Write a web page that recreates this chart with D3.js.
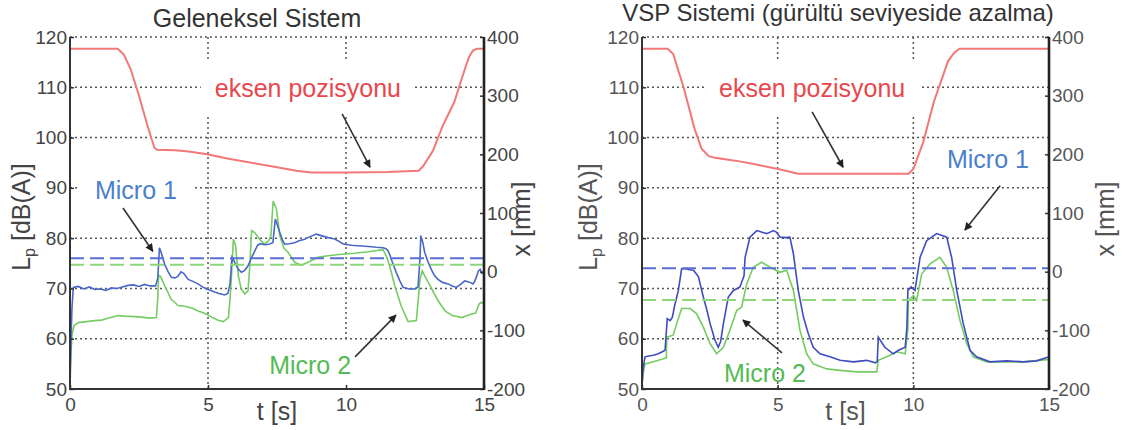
<!DOCTYPE html>
<html><head><meta charset="utf-8">
<script src="https://cdn.jsdelivr.net/npm/d3@7/dist/d3.min.js"></script>
<style>body{margin:0;background:#fff;} svg{display:block;font-family:"Liberation Sans",Arial,sans-serif;}</style>
</head><body><svg id="c" width="1125" height="430"></svg>
<script>
// ---------- data ----------
const tDomain = [0, 15];
const dbDomain = [50, 120];
const mmDomain = [-200, 400];
const xTicks = [0, 5, 10, 15];
const dbTicks = [50, 60, 70, 80, 90, 100, 110, 120];
const mmTicks = [-200, -100, 0, 100, 200, 300, 400];
const dbGrid = [60, 70, 80, 90, 100, 110, 120];
const tGrid = [5, 10];
const titles = ["Geleneksel Sistem", "VSP Sistemi (gürültü seviyeside azalma)"];

// Geleneksel Sistem  [t (s), Lp (dB(A))]
const gelMicro1 = [[0,50],[0.03,58],[0.07,66],[0.12,70.2],[0.3,70.4],[0.5,69.9],[0.7,70.3],[0.9,69.8],[1.1,69.9],[1.3,69.6],[1.5,70.1],[1.7,70.0],[1.9,70.3],[2.1,70.6],[2.3,70.7],[2.5,70.4],[2.7,70.8],[2.9,70.5],[3.1,70.5],[3.18,72],[3.24,78.1],[3.3,77.2],[3.43,74.8],[3.55,73.4],[3.67,72.2],[3.8,72.1],[3.91,72.4],[4.02,73.3],[4.12,73.0],[4.28,71.8],[4.45,71.4],[4.64,70.9],[4.8,70.3],[4.95,69.9],[5.1,69.6],[5.24,69.3],[5.4,69.0],[5.6,68.7],[5.72,69.0],[5.8,71],[5.87,76.2],[5.97,75.2],[6.1,73.8],[6.21,73.2],[6.33,73.6],[6.45,74.5],[6.57,76.0],[6.69,77.4],[6.8,78.6],[6.9,78.9],[7.05,78.7],[7.2,78.8],[7.35,79.1],[7.44,83.8],[7.52,82.5],[7.6,81.1],[7.7,79.6],[7.78,78.8],[7.95,78.9],[8.14,79.1],[8.3,79.5],[8.5,79.8],[8.7,80.3],[8.92,80.8],[9.1,80.5],[9.35,80.1],[9.55,79.9],[9.71,79.5],[9.85,79.0],[9.95,78.8],[10.2,78.6],[10.43,78.5],[10.7,78.4],[10.92,78.3],[11.1,78.2],[11.34,78.1],[11.45,77.9],[11.52,77.5],[11.6,76.5],[11.64,75.8],[11.73,74.5],[11.82,73.2],[11.95,71.5],[12.07,70.2],[12.3,69.9],[12.49,69.9],[12.61,70.3],[12.68,76],[12.71,80.5],[12.78,79.2],[12.85,77.2],[12.97,75.3],[13.09,73.8],[13.2,72.6],[13.33,71.8],[13.5,71.2],[13.7,70.9],[13.85,70.5],[14.0,70.2],[14.15,70.8],[14.3,71.5],[14.45,71.3],[14.6,70.9],[14.66,71.4],[14.72,72.2],[14.8,73.5],[14.86,73.8],[14.92,73.0],[15,73.2]];
const gelMicro2 = [[0,53],[0.03,57],[0.08,61],[0.15,62.6],[0.3,63.2],[0.6,63.4],[0.9,63.6],[1.14,63.7],[1.35,64.0],[1.55,64.3],[1.75,64.6],[1.95,64.5],[2.34,64.4],[2.6,64.3],[2.9,64.1],[3.13,64.2],[3.18,68],[3.21,72.6],[3.28,72.4],[3.43,70.5],[3.55,69.2],[3.67,67.8],[3.8,67.2],[3.91,66.6],[4.1,66.5],[4.28,66.3],[4.45,66.0],[4.64,65.5],[4.8,65.2],[5.0,64.7],[5.2,64.1],[5.4,63.6],[5.55,63.4],[5.65,63.8],[5.74,64.2],[5.8,68],[5.85,72.5],[5.92,79.8],[6.0,78.5],[6.1,72.5],[6.2,70],[6.33,68.9],[6.45,69.5],[6.52,75],[6.58,81.5],[6.69,81.1],[6.87,79.8],[7.05,78.8],[7.2,79.5],[7.28,80.5],[7.36,87.4],[7.48,85.8],[7.6,80.5],[7.75,78],[7.9,77.2],[8.14,75.2],[8.38,74.6],[8.62,75.2],[8.98,76.2],[9.35,76.5],[9.83,76.8],[10.3,77.0],[10.8,77.3],[11.34,77.7],[11.46,76.5],[11.58,74.5],[11.77,70.5],[12.0,66.5],[12.25,63.4],[12.55,63.6],[12.62,68],[12.68,71.8],[12.76,73.5],[12.9,72.0],[13.05,70.5],[13.3,67.9],[13.45,66.6],[13.6,65.5],[13.85,64.6],[14.2,64.2],[14.4,64.6],[14.55,64.9],[14.7,65.1],[14.82,66.9],[14.9,67.2],[15,67.0]];
// axis position [t (s), x (mm)]
const gelAxis = [[0,380],[1.73,380],[1.95,370],[2.2,345],[2.5,300],[2.8,250],[3.05,212],[3.15,208],[3.8,207],[4.3,205],[4.97,200],[5.7,193],[6.52,186],[7.5,178],[8.2,172],[8.73,169],[10,169],[11.5,170],[12.63,172],[12.8,180],[13.15,206],[13.5,248],[13.93,290],[14.2,330],[14.45,365],[14.6,377],[14.75,380],[15,380]];
const gelMean = [76.0, 74.7]; // Micro 1, Micro 2

// VSP Sistemi
const vspMicro1 = [[0,51],[0.04,54],[0.11,56.4],[0.3,56.6],[0.42,56.7],[0.6,57.0],[0.75,57.4],[0.85,57.7],[0.93,64.0],[1.04,63.6],[1.12,64.3],[1.2,66.5],[1.34,69.6],[1.46,73.9],[1.6,73.9],[1.75,73.7],[1.9,73.6],[2.08,72.3],[2.26,68.3],[2.4,65.5],[2.51,63.0],[2.69,59.7],[2.81,58.3],[2.9,59.5],[3.0,63.0],[3.18,68.3],[3.37,69.6],[3.61,70.3],[3.76,72.5],[3.8,76.2],[3.98,80.2],[4.23,81.5],[4.4,81.2],[4.6,80.9],[4.84,81.5],[4.95,81.2],[5.09,80.2],[5.3,80.1],[5.45,80.2],[5.58,76.9],[5.76,69.6],[5.95,64.3],[6.13,61.0],[6.31,58.3],[6.56,57.0],[6.93,56.4],[7.3,55.7],[7.79,55.4],[8.28,55.7],[8.6,55.2],[8.67,55.5],[8.71,60.3],[8.95,58.3],[9.26,57.0],[9.45,57.7],[9.7,58.3],[9.76,62],[9.8,69.6],[9.92,70.3],[10.06,69.6],[10.25,76.2],[10.49,79.5],[10.86,80.9],[11.23,80.2],[11.41,76.2],[11.6,69.6],[11.84,63.0],[12.09,57.7],[12.33,56.4],[12.82,55.4],[13.44,55.6],[14.06,55.4],[14.55,55.6],[15,56.4]];
const vspMicro2 = [[0,50.5],[0.04,53],[0.11,55.0],[0.42,55.4],[0.79,56.0],[0.9,56.2],[0.91,60.3],[1.15,60.7],[1.28,63.0],[1.46,66.0],[1.77,66.0],[2.01,65.0],[2.26,62.3],[2.51,59.0],[2.75,57.0],[3.0,58.3],[3.24,61.7],[3.49,65.6],[3.67,66.3],[3.86,70.9],[4.1,74.2],[4.41,75.2],[4.72,74.2],[5.09,73.2],[5.33,73.6],[5.58,69.6],[5.82,61.7],[6.07,57.0],[6.31,55.0],[6.81,54.0],[7.3,53.7],[7.91,53.4],[8.65,53.4],[8.71,55.7],[9.02,56.4],[9.39,57.4],[9.7,57.0],[9.8,62],[9.82,67.6],[10.0,68.6],[10.12,67.6],[10.31,72.9],[10.62,74.9],[10.98,76.2],[11.23,74.2],[11.47,69.6],[11.72,63.6],[11.97,59.0],[12.21,56.4],[12.7,55.4],[13.2,55.4],[14.06,55.4],[15,55.9]];
const vspAxis = [[0,380],[0.95,380],[1.15,371],[1.54,313],[1.94,243],[2.2,209],[2.46,197],[2.7,194],[3.12,191],[3.6,188],[4.17,183],[5.1,174],[5.75,167],[9.83,167],[10.0,175],[10.2,200],[10.36,220],[10.76,290],[11.28,359],[11.5,373],[11.7,380],[15,380]];
const vspMean = [74.0, 67.7];

// annotation anchors in data units [t, dB]
const gelNotes = {
  eksen: {text:[8.62,109.9], from:[9.86,104.7], to:[10.87,94.1]},
  m1: {text:[2.39,89.6], from:[1.92,86.0], to:[3.0,77.4]},
  m2: {text:[8.7,54.8], from:[10.33,56.4], to:[11.81,64.7]}
};
const vspNotes = {
  eksen: {text:[6.27,109.9], from:[6.27,105.1], to:[7.41,94.1]},
  m1: {text:[12.75,95.7], from:[13.2,90.4], to:[11.9,81.6]},
  m2: {text:[4.53,53.2], from:[5.16,57.2], to:[3.72,63.7]}
};

// ---------- drawing ----------
const svg = d3.select("#c");
svg.append("rect").attr("width",1125).attr("height",430).attr("fill","#fff");
const defs = svg.append("defs");
defs.append("marker").attr("id","ah").attr("viewBox","0 0 10 10").attr("refX",9).attr("refY",5)
  .attr("markerWidth",10).attr("markerHeight",8).attr("markerUnits","userSpaceOnUse").attr("orient","auto")
  .append("path").attr("d","M0,0L10,5L0,10z").attr("fill","#222");

const COL = {green:"#74cc62", red:"#f27878", blueDash:"#5a6fd4", greenDash:"#8dd67c",
  txtRed:"#e8474c", txtBlue:"#4a80cc", txtGreen:"#55bb55"};
const LBL = 25;

function panel(cfg){
  const {x0,x1,y0,y1} = cfg;
  const g = svg.append("g");
  const x = d3.scaleLinear().domain(tDomain).range([x0,x1]);
  const yL = d3.scaleLinear().domain(dbDomain).range([y1,y0]);
  const yR = d3.scaleLinear().domain(mmDomain).range([y1,y0]);

  // grid
  const grid = g.append("g").attr("stroke","#555").attr("stroke-width",1.5).attr("stroke-dasharray","2,3");
  grid.selectAll(".h").data(dbGrid).join("line").attr("x1",x0).attr("x2",x1).attr("y1",d=>yL(d)).attr("y2",d=>yL(d));
  grid.selectAll(".v").data(tGrid).join("line").attr("x1",d=>x(d)).attr("x2",d=>x(d)).attr("y1",y0).attr("y2",y1);

  const boxes = g.append("g");
  const lines = g.append("g");
  const notes = g.append("g");

  const lineDb = d3.line().x(d=>x(d[0])).y(d=>yL(d[1]));
  const lineMm = d3.line().x(d=>x(d[0])).y(d=>yR(d[1]));
  lines.append("path").datum(cfg.axis).attr("d",lineMm).attr("fill","none").attr("stroke",COL.red).attr("stroke-width",2);
  lines.append("path").datum(cfg.m2).attr("d",lineDb).attr("fill","none").attr("stroke",COL.green).attr("stroke-width",1.6);
  lines.append("path").datum(cfg.m1).attr("d",lineDb).attr("fill","none").attr("stroke",cfg.blue).attr("stroke-width",1.6);
  lines.append("line").attr("x1",x0).attr("x2",x1).attr("y1",yL(cfg.mean[1])).attr("y2",yL(cfg.mean[1]))
    .attr("stroke",COL.greenDash).attr("stroke-width",2).attr("stroke-dasharray","14,6");
  lines.append("line").attr("x1",x0).attr("x2",x1).attr("y1",yL(cfg.mean[0])).attr("y2",yL(cfg.mean[0]))
    .attr("stroke",COL.blueDash).attr("stroke-width",2).attr("stroke-dasharray","14,6");

  // annotations
  const n = cfg.notes;
  const items = [["eksen pozisyonu",n.eksen,COL.txtRed,cfg.boxE],["Micro 1",n.m1,COL.txtBlue,cfg.boxM1],["Micro 2",n.m2,COL.txtGreen,cfg.boxM2]];
  items.forEach(([label,a,col,box])=>{
    const t = notes.append("text").attr("x",x(a.text[0])).attr("y",yL(a.text[1])).attr("dy","0.35em")
      .attr("text-anchor","middle").attr("font-size",LBL).attr("fill",col).text(label);
    if(box){
      const b = t.node().getBBox();
      boxes.append("rect").attr("x",b.x-box[0]).attr("y",b.y-box[1]).attr("width",b.width+2*box[0]).attr("height",b.height+2*box[1]).attr("fill","#fff");
    }
    notes.append("line").attr("x1",x(a.from[0])).attr("y1",yL(a.from[1])).attr("x2",x(a.to[0])).attr("y2",yL(a.to[1]))
      .attr("stroke","#333").attr("stroke-width",1.6).attr("marker-end","url(#ah)");
  });

  // axes
  const tc = cfg.tickColor;
  const ax = g.append("g");
  const aL = ax.append("g").attr("transform",`translate(${x0},0)`).call(d3.axisLeft(yL).tickValues(dbTicks).tickSize(-4).tickPadding(3));
  const aR = ax.append("g").attr("transform",`translate(${x1},0)`).call(d3.axisRight(yR).tickValues(mmTicks).tickSize(-4).tickPadding(3));
  const aB = ax.append("g").attr("transform",`translate(0,${y1})`).call(d3.axisBottom(x).tickValues(xTicks).tickSize(-4).tickPadding(9));
  [aL,aR,aB].forEach(a=>{
    a.attr("font-family",null).attr("font-size",null);
    a.select(".domain").remove();
    a.selectAll(".tick line").attr("stroke","#333").attr("stroke-width",1.5);
    a.selectAll(".tick text").attr("font-size",19).attr("fill",tc);
  });
  aR.selectAll(".tick text").text(d=>d<0?"-"+Math.abs(d):d);
  ax.append("line").attr("x1",x0).attr("x2",x0).attr("y1",y0).attr("y2",y1+1).attr("stroke","#333").attr("stroke-width",2);
  ax.append("line").attr("x1",x0-1).attr("x2",x1+1).attr("y1",y1).attr("y2",y1).attr("stroke","#333").attr("stroke-width",2);
  ax.append("line").attr("x1",x1).attr("x2",x1).attr("y1",y0).attr("y2",y1+1).attr("stroke","#222").attr("stroke-width",2.6);

  // titles & labels
  g.append("text").attr("x",cfg.titleX).attr("y",cfg.titleY).attr("text-anchor","middle").attr("font-size",cfg.titleSize).attr("fill","#333").text(cfg.title);
  g.append("text").attr("x",(x0+x1)/2).attr("y",y1+31).attr("text-anchor","middle").attr("font-size",LBL).attr("fill",tc).text("t [s]");
  const yl = g.append("text").attr("transform",`translate(${x0-cfg.ylOff},${(y0+y1)/2+4}) rotate(-90)`).attr("text-anchor","middle").attr("font-size",LBL).attr("fill",tc);
  yl.append("tspan").text("L");
  yl.append("tspan").attr("font-size",16).attr("dy",5).text("p");
  yl.append("tspan").attr("dy",-5).text(" [dB(A)]");
  g.append("text").attr("transform",`translate(${x1+cfg.yrOff},${(y0+y1)/2+6}) rotate(-90)`).attr("text-anchor","middle").attr("font-size",LBL).attr("fill",tc).text("x [mm]");
}

panel({x0:70,x1:484,y0:37,y1:389,m1:gelMicro1,m2:gelMicro2,axis:gelAxis,mean:gelMean,notes:gelNotes,blue:"#4a66c8",
  title:titles[0],titleX:257,titleY:27,titleSize:25,tickColor:"#444",ylOff:40,yrOff:46,boxE:[14,13],boxM1:[15,8],boxM2:[14,10]});
panel({x0:642,x1:1049,y0:37,y1:389,m1:vspMicro1,m2:vspMicro2,axis:vspAxis,mean:vspMean,notes:vspNotes,blue:"#3f4cc0",
  title:titles[1],titleX:838,titleY:20.5,titleSize:24,tickColor:"#555",ylOff:45,yrOff:65,boxE:[14,13],boxM1:null,boxM2:null});
</script></body></html>
